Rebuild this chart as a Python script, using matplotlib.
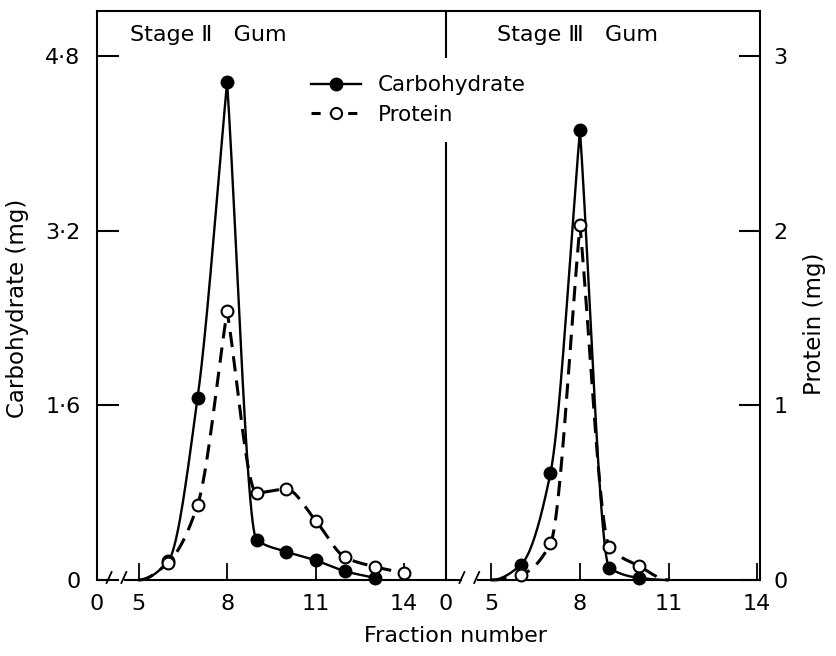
import numpy as np
import matplotlib
matplotlib.use("Agg")
import matplotlib.pyplot as plt
from matplotlib.lines import Line2D

# ---------------- data ----------------
stage2_frac_carb = [5, 6, 7, 8, 9, 10, 11, 12, 13]
stage2_carb = [0.0, 0.17, 1.67, 4.56, 0.37, 0.26, 0.18, 0.08, 0.02]
stage2_frac_prot = [5, 6, 7, 8, 9, 10, 11, 12, 13, 14]
stage2_prot = [0.0, 0.10, 0.43, 1.54, 0.50, 0.52, 0.34, 0.13, 0.076, 0.04]

stage3_frac = [5, 6, 7, 8, 9, 10, 11]
stage3_carb = [0.0, 0.14, 0.98, 4.12, 0.11, 0.02, 0.0]
stage3_prot = [0.0, 0.03, 0.21, 2.03, 0.19, 0.08, 0.0]

carb_ticks = [0, 1.6, 3.2, 4.8]
carb_ticklabels = ["0", "1·6", "3·2", "4·8"]
prot_ticks = [0, 1, 2, 3]
prot_ticklabels = ["0", "1", "2", "3"]
frac_ticks = [5, 8, 11, 14]
frac_ticklabels = ["5", "8", "11", "14"]
panel_titles = ["Stage Ⅱ   Gum", "Stage Ⅲ   Gum"]
legend_labels = ["Carbohydrate", "Protein"]


def smooth(x, y, n=60):
    """Monotone cubic Hermite rendering of the measured points,
    pointed at the main peak (as in the hand-drawn original)."""
    x = np.asarray(x, float)
    y = np.asarray(y, float)
    h = np.diff(x)
    s = np.diff(y) / h
    m = len(x)
    d = np.zeros(m)
    for i in range(1, m - 1):
        if s[i - 1] * s[i] > 0:
            d[i] = 2.0 / (1.0 / s[i - 1] + 1.0 / s[i])
    d[0] = 0.0 if y[0] == 0 else s[0]
    d[-1] = 0.0 if y[-1] == 0 else s[-1]
    imax = int(np.argmax(y))
    xs_all, ys_all = [], []
    for i in range(m - 1):
        d0, d1 = d[i], d[i + 1]
        if i + 1 == imax:
            d1 = s[i]
        if i == imax:
            d0 = s[i]
        t = np.linspace(0, 1, n)
        h00 = 2 * t**3 - 3 * t**2 + 1
        h10 = t**3 - 2 * t**2 + t
        h01 = -2 * t**3 + 3 * t**2
        h11 = t**3 - t**2
        yy = h00 * y[i] + h10 * h[i] * d0 + h01 * y[i + 1] + h11 * h[i] * d1
        xs_all.append(x[i] + t * h[i])
        ys_all.append(yy)
    return np.concatenate(xs_all), np.concatenate(ys_all)


W, H = 836, 656
fig = plt.figure(figsize=(W / 100, H / 100), dpi=100)
fig.patch.set_facecolor("white")


def fx(px):
    return px / W


def fy(py):
    return 1 - py / H


TOP, BOT = 11, 580
CARB_MAX = (BOT - TOP) / 109.17
PROT_MAX = CARB_MAX / 1.6

axL = fig.add_axes([fx(97), fy(BOT), fx(446) - fx(97), (BOT - TOP) / H])
axR = fig.add_axes([fx(446), fy(BOT), fx(760) - fx(446), (BOT - TOP) / H])
axL.set_xlim(3.59, 15.42)
axR.set_xlim(3.46, 14.1)

FS = 16
LW_FRAME = 1.5

panels = [
    (axL, stage2_frac_carb, stage2_carb, stage2_frac_prot, stage2_prot),
    (axR, stage3_frac, stage3_carb, stage3_frac, stage3_prot),
]

twins = []
for k, (ax, fc, cv, fp, pv) in enumerate(panels):
    ax.set_ylim(0, CARB_MAX)
    ax.spines["bottom"].set_visible(False)
    for sp in ax.spines.values():
        sp.set_linewidth(LW_FRAME)
    if k == 0:
        ax.spines["right"].set_visible(False)
    ax2 = ax.twinx()
    ax2.set_ylim(0, PROT_MAX)
    for sp in ax2.spines.values():
        sp.set_visible(False)
    twins.append(ax2)

    # carbohydrate curve + measured points
    xs, ys = smooth(fc, cv)
    ax.plot(xs, ys, color="black", lw=1.7, clip_on=False, zorder=3)
    ce = len(cv) - (1 if cv[-1] == 0 else 0)
    ax.plot(fc[1:ce], cv[1:ce], ls="none", marker="o", ms=9, mfc="black",
            mec="black", clip_on=False, zorder=4)
    # protein curve + measured points (on the protein scale)
    xs, ys = smooth(fp, pv)
    ax2.plot(xs, ys, color="black", lw=2.2, ls=(0, (5, 3)), clip_on=False, zorder=3)
    pe = len(pv) - (1 if pv[-1] == 0 else 0)
    ax2.plot(fp[1:pe], pv[1:pe], ls="none", marker="o", ms=8.5, mfc="white",
             mec="black", mew=1.5, clip_on=False, zorder=4)

    # x axis with break
    x0, x1 = ax.get_xlim()
    ax.set_xticks(frac_ticks)
    ax.set_xticklabels(frac_ticklabels)
    ax.set_xticks([x0], minor=True)
    ax.set_xticklabels(["0"], minor=True)
    ax.tick_params(axis="x", which="major", direction="in", length=12,
                   width=1.3, labelsize=FS, pad=10)
    ax.tick_params(axis="x", which="minor", length=0, labelsize=FS, pad=10)
    ax.plot([x0, 4.0], [0, 0], color="black", lw=LW_FRAME, clip_on=False,
            solid_capstyle="butt")
    ax.plot([4.5, x1], [0, 0], color="black", lw=LW_FRAME, clip_on=False,
            solid_capstyle="butt")
    bbox = ax.get_position()
    wpx = bbox.width * W
    hpx = bbox.height * H
    for xb in (4.0, 4.5):
        xa = (xb - x0) / (x1 - x0)
        ax.plot([xa - 2.5 / wpx, xa + 2.5 / wpx], [-3 / hpx, 8 / hpx],
                transform=ax.transAxes, color="black", lw=1.3, clip_on=False)

# y axes
axL.set_yticks(carb_ticks)
axL.set_yticklabels(carb_ticklabels)
axL.tick_params(axis="y", direction="in", length=15.5, width=LW_FRAME,
                labelsize=FS, pad=12)
axR.set_yticks([])
twins[0].set_yticks([])
twins[1].set_yticks(prot_ticks)
twins[1].set_yticklabels(prot_ticklabels)
twins[1].tick_params(axis="y", right=True, labelright=True, direction="in",
                     length=15, width=LW_FRAME, labelsize=FS, pad=9.5)

# texts
fig.text(fx(130), fy(35), panel_titles[0], ha="left", va="center", fontsize=FS)
fig.text(fx(497), fy(35), panel_titles[1], ha="left", va="center", fontsize=FS)
fig.text(fx(456), fy(636), "Fraction number", ha="center", va="center", fontsize=FS)
fig.text(fx(18), fy(308), "Carbohydrate (mg)", rotation=90, ha="center",
         va="center", fontsize=16.5)
fig.text(fx(815), fy(324), "Protein (mg)", rotation=90, ha="center",
         va="center", fontsize=16.5)

# legend
h1 = Line2D([], [], color="black", lw=1.7, marker="o", ms=9, mfc="black")
h2 = Line2D([], [], color="black", lw=2.2, ls=(0, (3, 3)), marker="o",
            ms=8, mfc="white", mec="black", mew=1.5)
leg = fig.legend([h1, h2], legend_labels, loc="center left",
                 bbox_to_anchor=(fx(294), fy(100)), frameon=True, fontsize=15.5,
                 handlelength=2.3, handletextpad=0.8, labelspacing=0.45,
                 borderpad=0.8, borderaxespad=0, fancybox=False)
leg.get_frame().set_edgecolor("none")
leg.get_frame().set_facecolor("white")
leg.get_frame().set_alpha(1)

fig.savefig("out.png", dpi=100, facecolor="white")
